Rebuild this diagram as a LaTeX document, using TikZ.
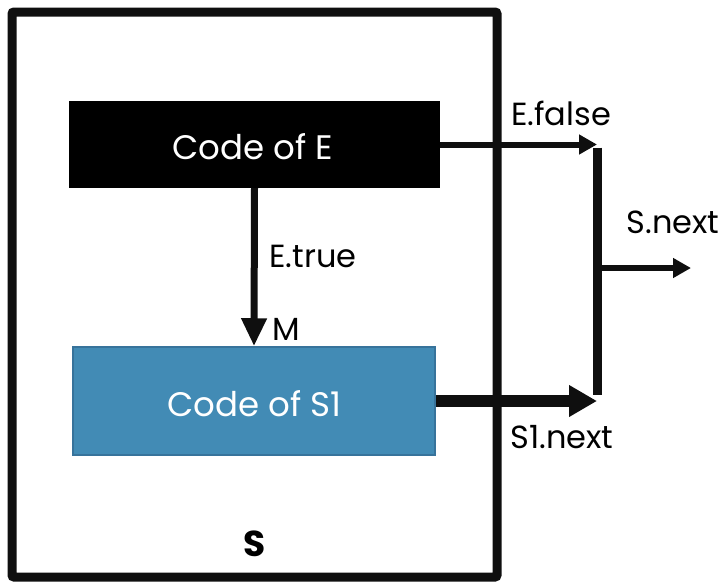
\documentclass[tikz,border=0pt]{standalone}
\usepackage{fontspec}
\setmainfont{Poppins}
\usetikzlibrary{arrows.meta}
\definecolor{boxblue}{RGB}{66,139,181}
\definecolor{boxblueborder}{RGB}{55,115,155}
\definecolor{ink}{RGB}{15,15,15}
\tikzset{
  outerbox/.style={draw=ink, line width=9pt, rounded corners=2pt, minimum width=485pt, minimum height=565pt, inner sep=0pt},
  codeE/.style={fill=black, draw=none, minimum width=371pt, minimum height=87pt, inner sep=0pt},
  codeS/.style={fill=boxblue, draw=boxblueborder, line width=1.5pt, minimum width=362pt, minimum height=108pt, inner sep=0pt},
  boxtext/.style={inner sep=0pt, text=white, font=\fontsize{34}{38}\selectfont},
  lbl/.style={inner sep=0pt, text=black, font=\fontsize{32}{36}\selectfont},
  thinarrow/.style={draw=ink, line width=6pt, -{Triangle[length=18pt,width=19pt]}},
  midarrow/.style={draw=ink, line width=7pt, -{Triangle[length=28pt,width=24pt]}},
  fatarrow/.style={draw=ink, line width=12pt, -{Triangle[length=28pt,width=30pt]}},
  joinline/.style={draw=ink, line width=9pt},
}
\begin{document}
\begin{tikzpicture}[x=1pt,y=-1pt]
\useasboundingbox (0,0) rectangle (721,582);
\node[outerbox] (S) at (254.5,294.5) {};
\node[codeE] (E) at (254.5,144.5) {};
\node[codeS] (S1) at (254,401) {};
\node[boxtext] (tE) at (253,147) {Code of E};
\node[boxtext] (tS1) at (254.5,404) {Code of S1};
\coordinate (jt) at (597,144.5);
\coordinate (jb) at (597,401);
\coordinate (jm) at (597,268);
\coordinate (snext) at (691,268);
\draw[joinline] ([yshift=-3pt]jt) -- ([yshift=6pt]jb);
\draw[thinarrow] (E.east) -- (jt);
\draw[fatarrow] (S1.east) -- (jb);
\draw[thinarrow] (jm) -- (snext);
\draw[midarrow] (E.south) -- (S1.north);
\node[lbl] (lfalse) at (561,113) {E.false};
\node[lbl] (lsnext) at (673,222) {S.next};
\node[lbl] (ltrue) at (313,256) {E.true};
\node[lbl] (lm) at (286,329) {M};
\node[lbl] (ls1next) at (562,437) {S1.next};
\node[lbl, font=\fontsize{36}{40}\selectfont\bfseries] (ls) at (254.5,544) {S};
\end{tikzpicture}
\end{document}
